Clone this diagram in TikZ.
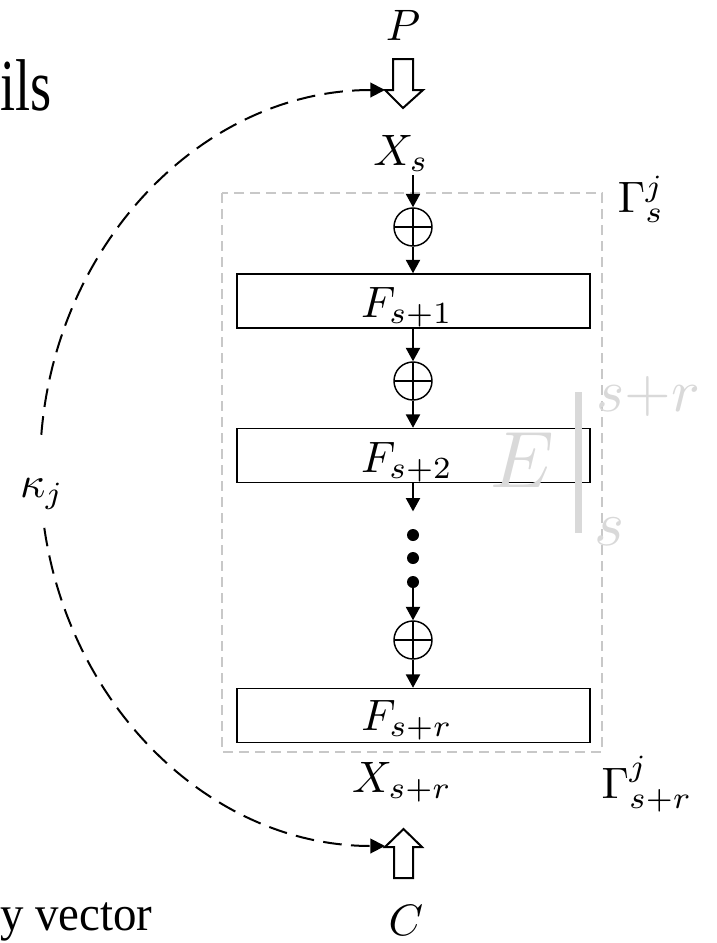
\documentclass[tikz,border=0pt]{standalone}
\usepackage{fontspec}
\usepackage{graphicx}
\newfontfamily\serifA{Liberation Serif}
\usetikzlibrary{arrows.meta,calc}
\definecolor{frameg}{RGB}{200,200,200}
\definecolor{eg}{RGB}{217,217,217}
\newcommand{\mysz}[2]{\scalebox{#1}{$#2$}}
\begin{document}
\begin{tikzpicture}[x=0.75pt,y=-0.75pt,
  mlbl/.style={inner sep=0pt},
  fbox/.style={draw, line width=1.1pt, minimum width=264.75pt, minimum height=40.5pt, inner sep=0pt},
  xorc/.style={circle, draw, line width=1.1pt, minimum size=28.5pt, inner sep=0pt,
    path picture={\draw[line width=1.1pt] (path picture bounding box.north) -- (path picture bounding box.south)
      (path picture bounding box.west) -- (path picture bounding box.east);}},
  dotn/.style={circle, fill, minimum size=9pt, inner sep=0pt},
  arr/.style={line width=1.5pt, -{Triangle[length=10pt,width=10.5pt]}},
  hollow/.style={draw, line width=1.5pt, fill=white, line join=miter},
  dasharc/.style={line width=1.5pt, dash pattern=on 14pt off 7pt, {Triangle[length=11pt,width=11pt]}-{Triangle[length=11pt,width=11pt]}},
  frame/.style={draw=frameg, line width=1.5pt, dash pattern=on 7.5pt off 4.5pt},
  bigtxt/.style={font=\serifA\fontsize{55}{60}\selectfont, inner sep=0pt},
  smalltxt/.style={font=\serifA\fontsize{37}{42}\selectfont, inner sep=0pt}
]
\useasboundingbox (0,0) rectangle (717,943);

% side texts
\node[bigtxt, anchor=base west] (ils) at (0,110) {\scalebox{0.74}[1]{ils}};
\node[smalltxt, anchor=base west] (yv) at (0,930) {\scalebox{0.95}[1]{y vector}};

% gray frame
\draw[frame] (222,193) rectangle (602,752);

% top input P
\node[mlbl, anchor=base] (P) at (403,40) {\mysz{3.3}{P}};
\draw[hollow] (393,59) -- (413,59) -- (413,90) -- (423,90) -- (403,108) -- (385,90) -- (393,90) -- cycle;
\coordinate (ptip) at (385,90);

\node[mlbl, anchor=base] (Xs) at (401,165) {\mysz{3.3}{X_s}};
\node[mlbl, anchor=base] (Gs) at (641,212) {\mysz{3.3}{\Gamma_s^j}};

% chain
\node[xorc] (o1) at (413,227) {};
\node[fbox] (F1) at (413.5,301) {};
\node[mlbl, anchor=base] (F1l) at (407,317) {\mysz{3.3}{F_{s+1}}};
\node[xorc] (o2) at (413,381) {};
\node[fbox] (F2) at (413.5,455.5) {};
\node[mlbl, anchor=base] (F2l) at (407,472) {\mysz{3.3}{F_{s+2}}};
\node[dotn] (d1) at (413,535) {};
\node[dotn] (d2) at (413,558) {};
\node[dotn] (d3) at (413,582) {};
\node[xorc] (o3) at (413,640) {};
\node[fbox] (F3) at (413.5,715.5) {};
\node[mlbl, anchor=base] (F3l) at (407,730) {\mysz{3.3}{F_{s+r}}};

\draw[arr] ($(Xs.base -| o1.north)+(0,10)$) -- (o1.north);
\draw[arr] (o1.south) -- (o1.south |- F1.north);
\draw[arr] (o2.north |- F1.south) -- (o2.north);
\draw[arr] (o2.south) -- (o2.south |- F2.north);
\draw[arr] (d1.north |- F2.south) -- ([yshift=13pt]d1.north);
\draw[arr] (d3.center) -- (o3.north);
\draw[arr] (o3.south) -- (o3.south |- F3.north);

% E evaluation bar
\node[mlbl, text=eg, anchor=base] (E) at (522,487) {\mysz{6}{E}};
\draw[eg, line width=5.25pt] (578,392) -- (578,533);
\node[mlbl, text=eg, anchor=base west] (Esup) at (596,411) {\mysz{4.5}{s{+}r}};
\node[mlbl, text=eg, anchor=base west] (Esub) at (594,545) {\mysz{4.8}{s}};

% bottom
\node[mlbl, anchor=base] (Xsr) at (402,792) {\mysz{3.3}{X_{s+r}}};
\node[mlbl, anchor=base] (Gsr) at (647,798) {\mysz{3.3}{\Gamma_{s+r}^j}};
\draw[hollow] (394,878) -- (413,878) -- (413,847) -- (422,847) -- (403.5,829) -- (385,847) -- (394,847) -- cycle;
\coordinate (ctip) at (385,846);
\node[mlbl, anchor=base] (C) at (406,935) {\mysz{3.3}{C}};

% key arc
\draw[dasharc] (ptip) arc[start angle=-90, end angle=-270, x radius=345, y radius=378];
\node[mlbl, fill=white, text height=42.75pt, text depth=19.5pt, anchor=base] (kap) at (42,497) {\mysz{3.3}{\kappa_j}};
\end{tikzpicture}
\end{document}
